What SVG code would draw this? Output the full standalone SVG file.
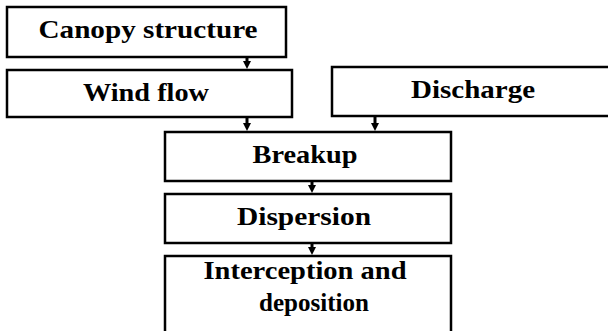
<svg xmlns="http://www.w3.org/2000/svg" width="608" height="331" viewBox="0 0 608 331">
<style>
.box{fill:#fff;stroke:#000;stroke-width:2.5}
.lbl{font-family:"Liberation Serif","Times New Roman",serif;font-weight:bold;font-size:25px;fill:#000;text-anchor:middle}
.con{stroke:#000;stroke-width:3;fill:none}
</style>
<defs>
<marker id="ah" markerUnits="userSpaceOnUse" markerWidth="9" markerHeight="9" refX="4" refY="4.5" orient="auto" viewBox="0 0 9 9">
<path d="M0,0.5 L8,4.5 L0,8.5 Z" fill="#000"/>
</marker>
</defs>
<rect width="608" height="331" fill="#fff"/>
<g id="canopy"><rect class="box" x="7" y="7" width="279" height="50"/><text class="lbl" x="148" y="38" textLength="219" lengthAdjust="spacingAndGlyphs">Canopy structure</text></g>
<g id="wind"><rect class="box" x="7" y="70" width="285" height="47"/><text class="lbl" x="146" y="101" textLength="126" lengthAdjust="spacingAndGlyphs">Wind flow</text></g>
<g id="discharge"><rect class="box" x="332" y="67" width="290" height="49"/><text class="lbl" x="473" y="98" textLength="124" lengthAdjust="spacingAndGlyphs">Discharge</text></g>
<g id="breakup"><rect class="box" x="165" y="132" width="286" height="49"/><text class="lbl" x="305" y="163" textLength="105" lengthAdjust="spacingAndGlyphs">Breakup</text></g>
<g id="dispersion"><rect class="box" x="165" y="194" width="286" height="49"/><text class="lbl" x="304" y="225" textLength="134" lengthAdjust="spacingAndGlyphs">Dispersion</text></g>
<g id="interception"><rect class="box" x="165" y="256" width="286" height="90"/><text class="lbl" x="305" y="279" textLength="203" lengthAdjust="spacingAndGlyphs">Interception and</text><text class="lbl" x="314" y="311" textLength="110" lengthAdjust="spacingAndGlyphs">deposition</text></g>
<g id="connectors">
<path class="con" d="M247,58 V65" marker-end="url(#ah)"/>
<path class="con" d="M247,118 V127" marker-end="url(#ah)"/>
<path class="con" d="M375,117 V127" marker-end="url(#ah)"/>
<path class="con" d="M312,182 V189" marker-end="url(#ah)"/>
<path class="con" d="M312,244 V251" marker-end="url(#ah)"/>
</g>
</svg>
